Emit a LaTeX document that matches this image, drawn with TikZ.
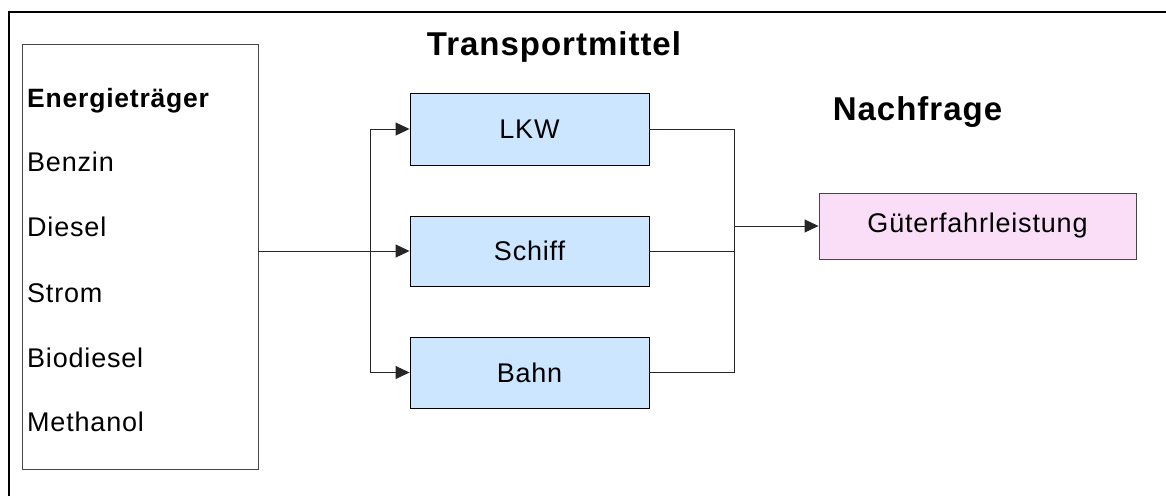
\documentclass[tikz,border=0pt]{standalone}
\usepackage{fontspec}
\setmainfont{Liberation Sans}[LetterSpace=3]
\usetikzlibrary{arrows.meta}

\definecolor{boxblue}{RGB}{204,230,255}
\definecolor{boxpink}{RGB}{250,222,248}
\definecolor{edgegray}{RGB}{70,70,70}

\tikzset{
  txt/.style={font=\fontsize{27}{31}\selectfont, inner sep=0pt},
  title/.style={font=\fontsize{33}{38}\selectfont\bfseries, inner sep=0pt},
  listitem/.style={txt, anchor=base west},
  mode/.style={draw=black, line width=0.9pt, fill=boxblue, minimum width=239pt,
               font=\fontsize{27}{31}\selectfont, inner sep=0pt},
  demand/.style={draw=edgegray, line width=0.9pt, fill=boxpink, minimum width=317pt,
               minimum height=66pt, font=\fontsize{27}{31}\selectfont, inner sep=0pt},
  carrierbox/.style={draw=edgegray, line width=0.9pt, minimum width=236pt, minimum height=425pt},
  link/.style={line width=0.9pt, draw=black!85},
  arr/.style={link, -{Triangle[length=14pt,width=13pt]}},
}

\begin{document}
\begin{tikzpicture}[x=1pt, y=-1pt]
  \useasboundingbox (0,0) rectangle (1166,496);

  % outer frame (top and left edges only)
  \draw[line width=1.8pt] (1166,12) -- (9,12) -- (9,496);

  % energy carriers
  \node[carrierbox] (ener) at (140,256.5) {};
  \node[listitem, font=\fontsize{26.5}{30}\selectfont\bfseries] (head) at (27,107) {Energieträger};
  \node[listitem] (benzin) at (27,171) {Benzin};
  \node[listitem] (diesel) at (27,236.5) {Diesel};
  \node[listitem] (strom) at (27,302) {Strom};
  \node[listitem] (biodiesel) at (27,367) {Biodiesel};
  \node[listitem] (methanol) at (27,431) {Methanol};

  % titles
  \node[title, anchor=base] (ttrans) at (554,55.7) {Transportmittel};
  \node[title, anchor=base] (tdemand) at (917.5,120.5) {Nachfrage};

  % transport modes
  \node[mode, minimum height=72pt] (lkw) at (529.5,129) {LKW};
  \node[mode, minimum height=70pt] (schiff) at (529.5,251) {Schiff};
  \node[mode, minimum height=71pt] (bahn) at (529.5,372.5) {Bahn};

  % demand
  \node[demand] (gut) at (977.5,226) {Güterfahrleistung};

  % junction points
  \coordinate (split) at (370,251);
  \coordinate (mx) at (734,0);

  % energy carriers to transport modes
  \draw[arr] (ener.east |- schiff.west) -- (schiff.west);
  \draw[arr] (split) |- (lkw.west);
  \draw[arr] (split) |- (bahn.west);

  % transport modes to demand
  \draw[link] (lkw.east) -- (lkw.east -| mx) -- (bahn.east -| mx) -- (bahn.east);
  \draw[link] (schiff.east) -- (schiff.east -| mx);
  \draw[arr] (mx |- gut.west) -- (gut.west);
\end{tikzpicture}
\end{document}
